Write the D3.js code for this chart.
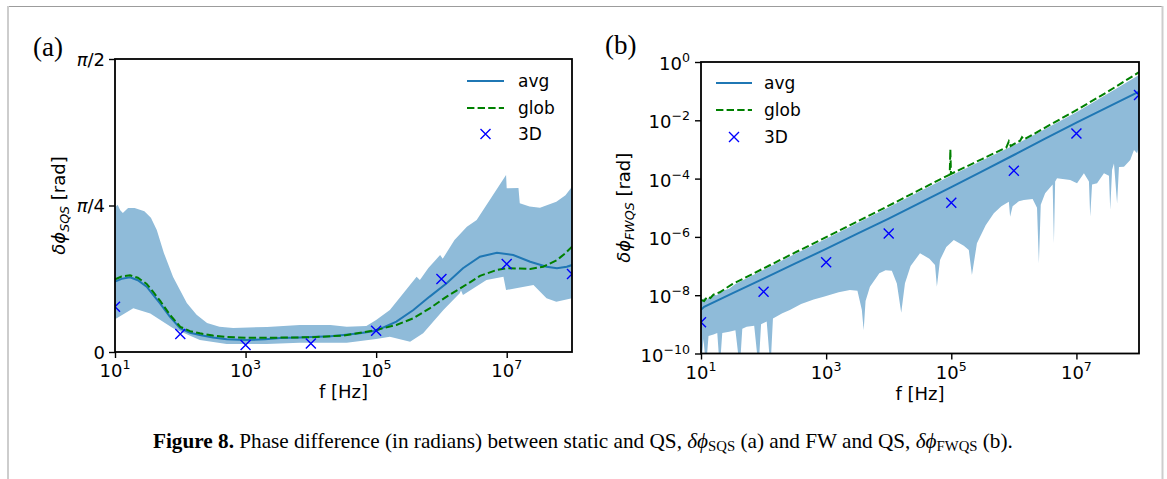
<!DOCTYPE html>
<html><head><meta charset="utf-8">
<script src="https://cdn.jsdelivr.net/npm/d3@7"></script>
<style>body{margin:0;background:#fff}svg{display:block}text{font-family:"DejaVu Sans",sans-serif;fill:#000}</style>
</head><body><svg id="c" width="1167" height="479"></svg>
<script>
// ---------- DATA (frequencies given as log10(f / Hz)) ----------
// Panel (a): values in rad
const avgA = [[1.0,0.377],[1.1,0.392],[1.23,0.40],[1.35,0.385],[1.485,0.35],[1.6,0.30],[1.69,0.261],[1.84,0.19],[2.0,0.127],[2.15,0.103],[2.3,0.091],[2.5,0.078],[2.71,0.068],[3.0,0.064],[3.3,0.068],[3.53,0.075],[3.83,0.078],[4.0,0.08],[4.3,0.084],[4.5,0.091],[4.75,0.1],[5.0,0.114],[5.31,0.163],[5.57,0.225],[5.82,0.297],[6.08,0.368],[6.33,0.449],[6.59,0.511],[6.85,0.532],[7.1,0.52],[7.36,0.484],[7.61,0.457],[7.77,0.449],[7.92,0.457],[8.0,0.466]];
const globA = [[1.0,0.39],[1.1,0.405],[1.23,0.411],[1.35,0.398],[1.485,0.365],[1.6,0.315],[1.69,0.275],[1.84,0.2],[2.0,0.135],[2.15,0.112],[2.3,0.1],[2.5,0.088],[2.71,0.08],[3.0,0.077],[3.5,0.077],[4.0,0.079],[4.5,0.088],[5.0,0.118],[5.31,0.145],[5.57,0.181],[5.82,0.234],[6.08,0.297],[6.33,0.35],[6.59,0.408],[6.85,0.44],[7.0,0.449],[7.2,0.447],[7.36,0.445],[7.56,0.457],[7.77,0.493],[7.9,0.53],[8.0,0.565]];
const threeDA = [[1,0.243],[2,0.097],[3,0.037],[4,0.046],[5,0.114],[6,0.391],[7,0.472],[8,0.418]];
const bandUpperA = [[1.0,0.775],[1.04,0.79],[1.08,0.76],[1.12,0.745],[1.2,0.772],[1.3,0.772],[1.45,0.755],[1.55,0.72],[1.64,0.654],[1.75,0.53],[1.89,0.402],[2.1,0.263],[2.25,0.2],[2.41,0.155],[2.6,0.135],[2.81,0.129],[3.33,0.134],[3.83,0.145],[4.3,0.145],[4.55,0.136],[4.85,0.14],[5.0,0.172],[5.21,0.225],[5.62,0.404],[5.67,0.386],[5.8,0.45],[5.98,0.52],[6.02,0.5],[6.2,0.6],[6.39,0.672],[6.54,0.708],[6.99,0.949],[7.0,0.878],[7.18,0.879],[7.2,0.797],[7.35,0.78],[7.51,0.774],[7.76,0.806],[7.9,0.84],[8.0,0.886]];
const bandLowerA = [[1.0,0.178],[1.02,0.18],[1.28,0.234],[1.54,0.207],[1.89,0.127],[2.3,0.064],[2.71,0.043],[3.32,0.043],[3.83,0.05],[4.55,0.05],[5.0,0.07],[5.21,0.082],[5.52,0.055],[5.72,0.1],[6.03,0.225],[6.28,0.315],[6.3,0.33],[6.33,0.305],[6.69,0.386],[6.95,0.404],[6.99,0.332],[7.41,0.359],[7.61,0.288],[7.76,0.27],[8.0,0.288]];
const yTicksA = [0, Math.PI/4, Math.PI/2];
const yTickLabelsA = [["", "0"], ["\u03c0", "/4"], ["\u03c0", "/2"]];

// Panel (b): values as log10(rad)
const avgB = [[1.0,-8.5],[1.05,-8.4],[1.5,-7.94],[2.0,-7.43],[2.5,-6.92],[3.0,-6.41],[3.5,-5.89],[4.0,-5.37],[4.5,-4.83],[5.0,-4.29],[5.5,-3.74],[6.0,-3.19],[6.5,-2.63],[7.0,-2.08],[7.5,-1.55],[8.0,-1.02]];
const globB = [[1.0,-8.16],[1.05,-8.2],[1.1,-8.05],[1.15,-8.1],[1.2,-7.98],[1.3,-7.9],[1.4,-7.76],[1.5,-7.62],[2.0,-7.08],[2.5,-6.54],[3.0,-6.01],[3.5,-5.47],[4.0,-4.93],[4.5,-4.38],[4.975,-3.86],[4.985,-3.0],[4.995,-3.84],[5.5,-3.32],[5.88,-2.93],[5.92,-2.72],[5.95,-2.88],[6.1,-2.7],[6.13,-2.58],[6.16,-2.66],[6.5,-2.25],[7.0,-1.65],[7.5,-1.02],[8.0,-0.35]];
const threeDB = [[1,-8.93],[2,-7.88],[3,-6.87],[4,-5.88],[5,-4.83],[6,-3.73],[7,-2.45],[8,-1.13]];
const bandUpperB = [[1.0,-8.25],[1.05,-8.1],[1.1,-8.15],[1.18,-7.98],[1.25,-8.0],[1.35,-7.85],[1.45,-7.78],[1.55,-7.62],[2.0,-7.13],[2.5,-6.59],[3.0,-6.06],[3.5,-5.52],[4.0,-4.98],[4.5,-4.43],[5.0,-3.89],[5.5,-3.37],[6.0,-2.86],[6.5,-2.3],[7.0,-1.72],[7.5,-1.09],[8.0,-0.45]];
const bandLowerB = [[1.0,-10.5],[1.04,-9.5],[1.08,-10.5],[1.12,-9.4],[1.2,-9.35],[1.26,-9.3],[1.3,-10.5],[1.34,-9.3],[1.45,-9.25],[1.55,-9.2],[1.62,-10.5],[1.66,-9.15],[1.73,-9.08],[1.85,-9.05],[1.92,-10.5],[1.96,-9.0],[2.05,-8.9],[2.11,-10.5],[2.15,-8.8],[2.3,-8.62],[2.42,-8.51],[2.6,-8.3],[2.8,-8.15],[2.96,-8.05],[3.2,-7.9],[3.38,-7.82],[3.5,-7.85],[3.57,-8.5],[3.6,-9.2],[3.63,-8.2],[3.7,-7.71],[3.85,-7.25],[3.95,-7.14],[4.05,-7.16],[4.13,-7.6],[4.2,-8.6],[4.26,-7.59],[4.35,-7.0],[4.5,-6.56],[4.65,-6.75],[4.74,-6.96],[4.77,-7.71],[4.82,-6.79],[4.92,-6.35],[5.04,-6.11],[5.2,-6.3],[5.28,-6.45],[5.33,-7.31],[5.41,-6.22],[5.55,-5.6],[5.68,-5.19],[5.8,-4.95],[5.92,-4.79],[5.94,-5.31],[5.98,-4.95],[6.08,-4.78],[6.16,-4.73],[6.3,-4.7],[6.37,-5.0],[6.4,-6.9],[6.43,-4.9],[6.5,-4.5],[6.62,-4.2],[6.64,-6.22],[6.66,-4.1],[6.69,-3.99],[6.9,-4.05],[7.01,-4.16],[7.12,-3.82],[7.2,-4.1],[7.22,-5.31],[7.25,-4.2],[7.33,-4.16],[7.44,-3.82],[7.52,-3.9],[7.54,-5.08],[7.57,-3.7],[7.6,-3.48],[7.65,-4.85],[7.68,-3.6],[7.76,-3.59],[7.86,-3.36],[7.92,-3.02],[7.97,-3.13],[8.0,-2.9]];
const yTickExpB = [0, -2, -4, -6, -8, -10];

const xTickExp = [1, 3, 5, 7];
const xDomain = [1e1, 1e8];
const legendLabels = ["avg", "glob", "3D"];

// ---------- DRAW ----------
const svg = d3.select("#c");
svg.append("rect").attr("width",1167).attr("height",479).attr("fill","#fff");
svg.append("line").attr("x1",7).attr("x2",1163).attr("y1",6.5).attr("y2",6.5).attr("stroke","#9c9c9c").attr("stroke-width",1.2);
svg.append("line").attr("x1",8).attr("x2",8).attr("y1",6).attr("y2",479).attr("stroke","#cdcdcd").attr("stroke-width",2);
svg.append("line").attr("x1",1162.5).attr("x2",1162.5).attr("y1",6).attr("y2",479).attr("stroke","#cdcdcd").attr("stroke-width",2);

const C_BAND = "#8fbbd9", C_AVG = "#1f77b4", C_GLOB = "#008000", C_3D = "#0000ff";

function drawPanel(p) {
  const g = svg.append("g");
  const x = d3.scaleLog().domain(xDomain).range([p.left, p.right]);
  const y = p.y;
  const conv = p.conv;
  const clipId = "clip" + p.id;
  svg.append("clipPath").attr("id", clipId).append("rect")
    .attr("x", p.left).attr("y", p.top).attr("width", p.right - p.left).attr("height", p.bottom - p.top);
  const plot = g.append("g").attr("clip-path", `url(#${clipId})`);
  const line = d3.line().x(d => x(d[0])).y(d => y(d[1]));
  const up = p.upper.map(conv), lo = p.lower.map(conv);
  plot.append("path").attr("d", line(up.concat(lo.slice().reverse())) + "Z").attr("fill", C_BAND);
  plot.append("path").attr("d", line(p.avg.map(conv))).attr("fill", "none").attr("stroke", C_AVG).attr("stroke-width", 2);
  plot.append("path").attr("d", line(p.glob.map(conv))).attr("fill", "none").attr("stroke", C_GLOB).attr("stroke-width", 2).attr("stroke-dasharray", "7.4,3.2");
  plot.selectAll(".m3d").data(p.pts.map(conv)).enter().append("path")
    .attr("transform", d => `translate(${x(d[0])},${y(d[1])})`)
    .attr("d", "M-5,-5L5,5M-5,5L5,-5").attr("stroke", C_3D).attr("stroke-width", 1.4).attr("fill", "none");

  // x axis
  const xa = g.append("g").attr("transform", `translate(0,${p.bottom})`)
    .call(d3.axisBottom(x).tickValues(xTickExp.map(e => Math.pow(10, e))).tickSize(6).tickFormat(""));
  xa.select(".domain").remove();
  xa.selectAll(".tick line").attr("stroke", "#000").attr("stroke-width", 1.4);
  xTickExp.forEach(e => {
    const t = g.append("text").attr("x", x(Math.pow(10, e))).attr("y", p.bottom + 25).attr("text-anchor", "middle").style("font-size", "18px");
    t.append("tspan").text("10");
    t.append("tspan").attr("dy", -8).style("font-size", "12.6px").text(e);
  });
  // y axis
  const ya = g.append("g").attr("transform", `translate(${p.left},0)`)
    .call(d3.axisLeft(y).tickValues(p.yTicks).tickSize(6).tickFormat(""));
  ya.select(".domain").remove();
  ya.selectAll(".tick line").attr("stroke", "#000").attr("stroke-width", 1.4);
  p.yTicks.forEach((v, i) => {
    const t = g.append("text").attr("x", p.left - p.ylabPad).attr("y", y(v) + p.ylabDy).attr("text-anchor", "end").style("font-size", "18px");
    p.yTickText(t, i);
  });
  // spines
  g.append("rect").attr("x", p.left).attr("y", p.top).attr("width", p.right - p.left).attr("height", p.bottom - p.top)
    .attr("fill", "none").attr("stroke", "#000").attr("stroke-width", 1.8);
  // axis labels
  g.append("text").attr("x", (p.left + p.right) / 2).attr("y", p.bottom + 46).attr("text-anchor", "middle").style("font-size", "18px").text("f [Hz]");
  const yl = g.append("text").attr("transform", `translate(${p.ylabX},${(p.top + p.bottom) / 2}) rotate(-90)`).attr("text-anchor", "middle").style("font-size", "18px");
  yl.append("tspan").style("font-style", "italic").text("\u03b4\u03d5");
  yl.append("tspan").style("font-style", "italic").style("font-size", "12.6px").attr("dy", 3.5).text(p.sub);
  yl.append("tspan").attr("dy", -3.5).text(" [rad]");
  // panel label
  g.append("text").attr("x", p.tagX).attr("y", p.tagY).style("font-family", "'Liberation Serif', serif").style("font-size", "27px").text(p.tag);
  // legend
  const L = p.legend;
  const rows = L.rows;
  g.append("line").attr("x1", L.x1).attr("x2", L.x2).attr("y1", rows[0]).attr("y2", rows[0]).attr("stroke", C_AVG).attr("stroke-width", 2);
  g.append("line").attr("x1", L.x1).attr("x2", L.x2).attr("y1", rows[1]).attr("y2", rows[1]).attr("stroke", C_GLOB).attr("stroke-width", 2).attr("stroke-dasharray", "7.4,3.2");
  g.append("path").attr("transform", `translate(${(L.x1 + L.x2) / 2},${rows[2]})`).attr("d", "M-5,-5L5,5M-5,5L5,-5").attr("stroke", C_3D).attr("stroke-width", 1.4);
  legendLabels.forEach((s, i) => g.append("text").attr("x", L.tx).attr("y", rows[i] + 6).style("font-size", "17px").text(s));
}

drawPanel({
  id: "a", left: 115, right: 572, top: 59, bottom: 352,
  y: d3.scaleLinear().domain([0, Math.PI / 2]).range([352, 59]),
  conv: d => [Math.pow(10, d[0]), d[1]],
  upper: bandUpperA, lower: bandLowerA, avg: avgA, glob: globA, pts: threeDA,
  yTicks: yTicksA, ylabPad: 10, ylabDy: 6.5,
  yTickText: (t, i) => { t.append("tspan").style("font-style", "italic").text(yTickLabelsA[i][0]); t.append("tspan").text(yTickLabelsA[i][1]); },
  sub: "SQS", ylabX: 65, tag: "(a)", tagX: 33, tagY: 56,
  legend: { x1: 467, x2: 504, tx: 518, rows: [81, 108, 134] }
});
drawPanel({
  id: "b", left: 701, right: 1139, top: 62, bottom: 353.5,
  y: d3.scaleLog().domain([1e-10, 1]).range([353.5, 62]),
  conv: d => [Math.pow(10, d[0]), Math.pow(10, d[1])],
  upper: bandUpperB, lower: bandLowerB, avg: avgB, glob: globB, pts: threeDB,
  yTicks: yTickExpB.map(e => Math.pow(10, e)), ylabPad: 11, ylabDy: 8,
  yTickText: (t, i) => { t.append("tspan").text("10"); t.append("tspan").attr("dy", -8).style("font-size", "12.6px").text(String(yTickExpB[i]).replace("-", "\u2212")); },
  sub: "FWQS", ylabX: 630, tag: "(b)", tagX: 605, tagY: 54,
  legend: { x1: 716, x2: 752, tx: 764, rows: [83, 110, 137] }
});

// caption
const cap = svg.append("text").attr("x", 153).attr("y", 448).style("font-family", "'Liberation Serif', serif").style("font-size", "18px");
cap.append("tspan").style("font-weight", "bold").text("Figure 8.");
cap.append("tspan").text(" Phase difference (in radians) between static and QS, ");
cap.append("tspan").style("font-style", "italic").text("\u03b4\u03d5");
cap.append("tspan").style("font-size", "12.5px").attr("dy", 3).text("SQS");
cap.append("tspan").attr("dy", -3).text(" (a) and FW and QS, ");
cap.append("tspan").style("font-style", "italic").text("\u03b4\u03d5");
cap.append("tspan").style("font-size", "12.5px").attr("dy", 3).text("FWQS");
cap.append("tspan").attr("dy", -3).text(" (b).");
const w = cap.node().getComputedTextLength();
cap.style("font-size", (18 * 860 / w).toFixed(2) + "px");
cap.selectAll("tspan").filter(function(){ return this.style.fontSize; }).style("font-size", (12.5 * 860 / w).toFixed(2) + "px");
</script></body></html>
